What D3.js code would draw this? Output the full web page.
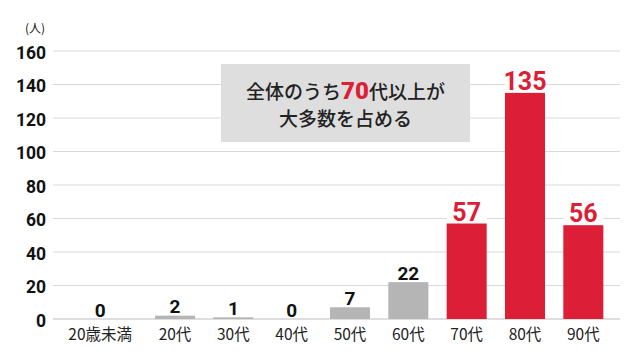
<!DOCTYPE html>
<html><head><meta charset="utf-8">
<script src="https://cdn.jsdelivr.net/npm/d3@7"></script>
<style>
html,body{margin:0;padding:0;background:#fff;}
svg{display:block;}
</style></head>
<body>
<svg id="chart" width="640" height="360"></svg>
<script>
const categories = ["20歳未満","20代","30代","40代","50代","60代","70代","80代","90代"];
const values = [0, 2, 1, 0, 7, 22, 57, 135, 56];
const highlight = [false,false,false,false,false,false,true,true,true];
const yTicks = [0,20,40,60,80,100,120,140,160];
const unitLabel = "(人)";
const noteLine1 = ["全体のうち", "70", "代以上が"];
const noteLine2 = "大多数を占める";

const W = 640, H = 360;
const svg = d3.select("#chart");
const red = "#dc1e36", gray = "#b5b5b5", grid = "#d9d9d9";
const numFont = "Roboto, 'DejaVu Sans', sans-serif";
const jpFont = "'Noto Sans CJK JP', 'Noto Sans', sans-serif";

const y = d3.scaleLinear().domain([0,160]).range([319,51]);
const x = d3.scaleBand().domain(categories).range([67.5, 632.5]).paddingInner(0.314).paddingOuter(0.5);
const firstShift = -16.5; // first category sits slightly left
const cx = (c,i) => x(c) + x.bandwidth()/2 + (i===0 ? firstShift : 0);

// gridlines
const yAxis = d3.axisLeft(y).tickValues(yTicks).tickSize(0).tickPadding(0);
svg.append("g").selectAll("line").data(yTicks).join("line")
  .attr("x1",53).attr("x2",620)
  .attr("y1",d=>y(d)).attr("y2",d=>y(d))
  .attr("stroke", d=> d===0 ? "#dedede" : grid)
  .attr("stroke-width", d=> d===0 ? 2 : 1.2);

// y labels via axis
const ga = svg.append("g").attr("transform","translate(46,0)").call(yAxis);
ga.select(".domain").remove();
ga.selectAll("text")
  .attr("font-family", numFont).attr("font-weight", 700).attr("font-size", 17.5)
  .attr("fill","#111").attr("dy","0.42em").attr("text-anchor","end");

svg.append("text").attr("x",45).attr("y",33).attr("text-anchor","end")
  .attr("font-family", jpFont).attr("font-size",12).attr("fill","#111").text(unitLabel);

// annotation box
svg.append("rect").attr("x",221).attr("y",64).attr("width",249).attr("height",78).attr("fill","#dedede");
const note = svg.append("text").attr("x",345.5).attr("y",98.5).attr("text-anchor","middle")
  .attr("font-family", jpFont).attr("font-size",19).attr("font-weight",500).attr("fill","#222");
note.append("tspan").text(noteLine1[0]);
note.append("tspan").text(noteLine1[1]).attr("fill",red).attr("font-family",numFont).attr("font-weight",900).attr("font-size",24);
note.append("tspan").text(noteLine1[2]);
svg.append("text").attr("x",345.5).attr("y",126).attr("text-anchor","middle")
  .attr("font-family", jpFont).attr("font-size",19).attr("font-weight",500).attr("fill","#222").text(noteLine2);

// bars
const data = categories.map((c,i)=>({c, v:values[i], h:highlight[i], i}));
svg.append("g").selectAll("rect").data(data).join("rect")
  .attr("x", d=>cx(d.c,d.i) - x.bandwidth()/2)
  .attr("width", x.bandwidth())
  .attr("y", d=>y(d.v))
  .attr("height", d=>y(0)-y(d.v))
  .attr("fill", d=>d.h ? red : gray);

// value labels with white backdrop
const lg = svg.append("g").selectAll("g").data(data).join("g");
lg.filter(d=>d.h).append("rect")
  .attr("x", d=>cx(d.c,d.i) - x.bandwidth()/2)
  .attr("width", x.bandwidth())
  .attr("y", d=>y(d.v) - 24).attr("height", 21).attr("fill","#fff");
lg.append("text")
  .attr("x", d=>cx(d.c,d.i))
  .attr("y", d=>y(d.v) - (d.h ? 3 : 2.5))
  .attr("text-anchor","middle")
  .attr("font-family", numFont).attr("font-weight", 700)
  .attr("font-size", d=>d.h ? 25 : 19)
  .attr("fill", d=>d.h ? red : "#111")
  .text(d=>d.v);

// x labels
const xAxis = d3.axisBottom(x).tickSize(0).tickPadding(0);
const gx = svg.append("g").attr("transform","translate(0,340)").call(xAxis);
gx.select(".domain").remove();
gx.selectAll(".tick").attr("transform", (c,i)=>`translate(${cx(c,i)},0)`);
gx.selectAll("text").attr("y",0).attr("dy",0)
  .attr("font-family", jpFont).attr("font-size",15.5).attr("fill","#222");
</script>
</body></html>
